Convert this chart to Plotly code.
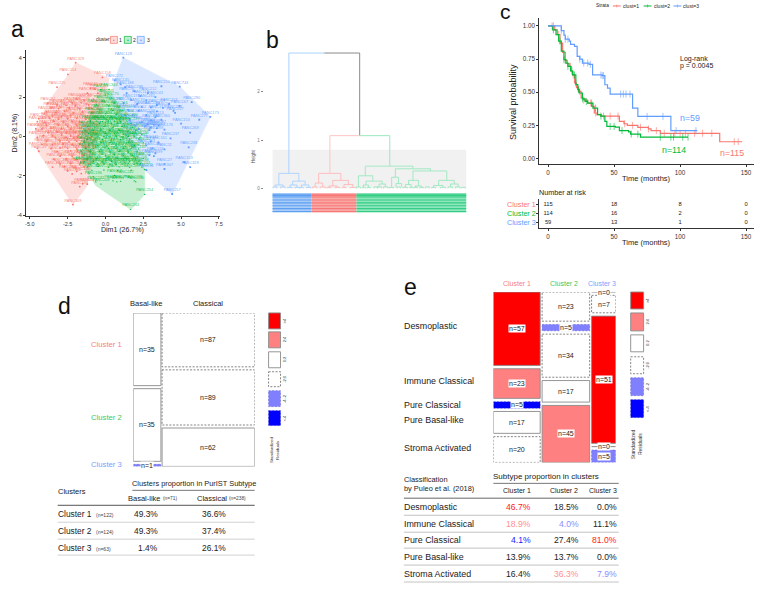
import plotly.graph_objects as go

W, H = 761, 593
FONT = "Liberation Sans"
RED, GREEN, BLUE = "#F8766D", "#00BA38", "#619CFF"

# ---------- panel a: PCA points (Dim1, Dim2, PANC id) ----------
red_points = [
(-1.97,3.75,329),(-2.48,3.15,154),(-0.2,3.0,158),(-3.2,2.5,225),(-1.0,2.45,26),(-0.7,2.4,78),(-0.5,2.2,91),(-1.2,2.2,133),
(-1.9,1.9,172),(-1.4,1.85,44),(-0.8,1.9,207),(-3.8,1.7,61),(-2.2,1.7,118),(-1.6,1.72,239),(-3.2,1.6,17),(-2.6,1.58,302),
(-2.0,1.55,85),(-1.1,1.6,146),(-0.5,1.55,260),(-3.6,1.45,34),(-3.1,1.42,197),(-2.4,1.45,221),(-1.7,1.4,58),(-0.9,1.42,114),
(-3.9,1.25,283),(-3.3,1.22,9),(-2.7,1.28,165),(-2.1,1.2,76),(-1.5,1.25,248),(-0.8,1.2,139),(-3.5,1.05,22),(-2.9,1.02,311),
(-2.3,1.08,97),(-1.2,1.05,184),(-0.6,1.0,51),(-4.4,0.9,273),(-3.7,0.92,126),(-3.1,0.88,39),(-2.5,0.9,215),(-1.9,0.92,68),
(-1.3,0.88,291),(-4.5,0.75,143),(-4.0,0.72,5),(-3.4,0.78,232),(-2.8,0.74,107),(-2.2,0.76,178),(-1.6,0.72,83),(-1.0,0.75,256),
(-3.9,0.55,19),(-3.1,0.58,201),(-2.5,0.52,64),(-1.9,0.56,120),(-1.4,0.53,297),(-4.6,0.4,155),(-4.2,0.38,42),(-3.6,0.42,268),
(-2.9,0.4,93),(-2.3,0.37,189),(-1.7,0.42,30),(-1.1,0.38,244),(-3.8,0.2,136),(-3.2,0.22,71),(-2.6,0.18,305),(-2.0,0.22,12),
(-1.5,0.2,169),(-4.1,0.05,226),(-3.5,0.03,88),(-2.9,0.07,151),(-2.3,0.03,47),(-1.8,0.06,279),(-1.2,0.02,103),(-4.5,-0.05,193),
(-3.3,-0.07,28),(-2.6,-0.04,235),(-2.1,-0.08,74),(-1.6,-0.05,160),(-1.0,-0.06,315),(-3.9,-0.25,55),(-3.0,-0.22,212),(-2.4,-0.27,129),
(-1.9,-0.24,6),(-1.4,-0.26,287),(-4.2,-0.4,99),(-3.5,-0.42,176),(-2.8,-0.38,37),(-2.2,-0.41,251),(-1.7,-0.39,110),(-1.1,-0.42,66),
(-4.5,-0.6,203),(-3.6,-0.62,14),(-3.0,-0.58,298),(-2.5,-0.6,141),(-1.9,-0.63,81),(-1.3,-0.59,230),(-4.4,-0.75,49),(-3.2,-0.77,187),
(-2.3,-0.73,123),(-1.6,-0.76,264),(-1.1,-0.74,25),(-3.0,-1.0,162),(-2.2,-1.02,95),(-1.5,-0.98,218),(-3.4,-1.15,60),(-2.6,-1.13,308),
(-1.9,-1.17,132),(-1.2,-1.14,3),(-3.0,-1.4,243),(-2.3,-1.38,79),(-1.7,-1.42,174),(-1.1,-1.39,116),(-3.5,-1.55,36),(-2.7,-1.53,276),
(-2.0,-1.57,149),(-1.4,-1.54,53),(-2.5,-1.75,209),(-1.9,-1.77,90),(-2.2,-1.9,255),(-1.6,-1.88,128),(-1.5,-2.4,289),(-1.2,-2.42,41),
(-1.7,-2.55,194),(-2.15,-3.46,309),
]
green_points = [
(0.24,2.39,344),(-0.31,2.38,15),(0.0,2.1,241),(0.4,1.95,70),(-0.2,1.8,183),(0.6,1.7,292),(-0.6,1.6,125),(0.2,1.55,33),
(0.9,1.5,216),(-0.4,1.35,147),(0.5,1.32,86),(1.1,1.3,259),(-0.9,1.2,8),(0.0,1.15,170),(0.7,1.12,303),(1.3,1.08,104),
(-0.7,1.0,59),(-0.1,0.98,224),(0.4,1.0,137),(1.0,0.95,21),(1.6,0.9,280),(-1.0,0.8,192),(-0.6,0.78,46),(-0.2,0.76,113),
(0.2,0.79,247),(0.6,0.77,72),(1.0,0.75,166),(1.4,0.78,294),(-0.8,0.68,31),(-0.4,0.66,200),(0.0,0.69,89),(0.4,0.65,269),
(0.8,0.67,140),(1.2,0.64,10),(1.7,0.66,229),(-1.2,0.5,101),(-0.7,0.48,175),(-0.1,0.5,54),(0.5,0.47,262),(1.1,0.5,122),
(1.8,0.45,307),(-1.3,0.32,43),(-0.8,0.3,210),(-0.3,0.33,80),(0.3,0.3,156),(0.9,0.32,285),(1.5,0.28,24),(2.0,0.31,135),
(-1.1,0.15,237),(-0.6,0.13,67),(0.0,0.16,186),(0.6,0.14,300),(1.2,0.12,109),(1.8,0.15,7),(2.4,0.1,219),(-1.3,0.02,75),
(-0.9,0.0,152),(-0.5,-0.02,272),(-0.1,0.01,38),(0.3,-0.01,195),(0.7,0.02,94),(1.1,-0.02,253),(1.5,0.0,131),(1.9,-0.01,18),
(2.3,-0.03,296),(-1.2,-0.14,163),(-0.7,-0.12,56),(-0.2,-0.15,227),(0.4,-0.13,112),(1.0,-0.16,278),(1.6,-0.14,29),(2.2,-0.12,181),
(-1.4,-0.3,84),(-0.9,-0.32,246),(-0.3,-0.29,142),(0.3,-0.31,13),(0.9,-0.33,306),(1.5,-0.3,198),(2.5,-0.32,62),(-1.1,-0.47,124),
(-0.5,-0.45,266),(0.1,-0.48,35),(0.7,-0.46,171),(1.3,-0.49,100),(1.9,-0.47,233),(-1.3,-0.62,50),(-0.8,-0.6,205),(-0.3,-0.63,144),
(0.2,-0.61,284),(0.7,-0.59,16),(1.2,-0.62,119),(1.7,-0.6,252),(2.2,-0.63,77),(-1.0,-0.78,168),(-0.4,-0.76,40),(0.3,-0.79,223),
(0.9,-0.77,105),(1.5,-0.8,295),(2.1,-0.75,145),(-1.4,-0.95,63),(-0.7,-0.93,240),(0.0,-0.96,11),(0.6,-0.94,180),(1.2,-0.97,87),
(1.8,-0.95,270),(-1.2,-1.1,127),(-0.6,-1.12,32),(0.1,-1.09,214),(0.8,-1.11,98),(1.4,-1.13,301),(2.0,-1.1,159),(2.5,-1.12,52),
(-1.4,-1.28,236),(-0.8,-1.26,73),(-0.2,-1.29,190),(0.4,-1.27,4),(1.0,-1.3,282),(1.6,-1.28,117),(2.2,-1.26,206),(-1.0,-1.4,45),
(-0.5,-1.38,148),(-0.1,-1.41,261),(0.3,-1.39,92),(0.7,-1.42,173),(1.1,-1.4,27),(1.5,-1.38,228),(1.9,-1.41,108),(2.3,-1.39,288),
(-1.2,-1.55,65),(-0.5,-1.53,202),(0.2,-1.56,134),(0.9,-1.54,20),(1.6,-1.57,250),(2.4,-1.55,157),(-0.9,-1.72,82),(-0.1,-1.7,293),
(0.8,-1.73,121),(1.7,-1.71,48),(2.59,-1.68,211),(-1.62,-1.34,167),(-0.8,-2.05,196),(0.6,-1.98,57),(1.3,-2.0,242),(-0.64,-2.3,182),
(0.5,-2.25,106),(1.0,-2.28,274),(-0.3,-2.42,208),(0.75,-2.3,69),(1.9,-2.25,235),(2.0,-2.3,130),(2.59,-2.95,254),(1.67,-3.71,263),
]
blue_points = [
(1.18,4.0,128),(0.6,2.85,272),(1.0,2.65,145),(1.3,2.5,188),(3.7,2.55,150),(4.91,2.53,743),(1.9,2.3,299),(1.4,2.2,76),
(2.8,2.2,212),(2.3,2.05,118),(3.3,2.0,43),(1.7,1.85,171),(2.7,1.85,261),(1.2,1.7,94),(2.1,1.65,33),(3.4,1.6,207),
(4.2,1.65,153),(5.7,1.75,290),(4.9,1.55,167),(2.4,1.5,84),(3.0,1.48,230),(3.8,1.45,51),(1.5,1.35,139),(2.2,1.3,12),
(4.5,1.3,294),(3.4,1.28,177),(4.6,1.2,207),(1.8,1.1,62),(2.7,1.08,248),(3.3,0.98,113),(6.93,1.0,173),(6.2,0.85,277),
(1.6,0.85,29),(3.0,0.82,190),(3.7,0.85,360),(2.4,0.72,105),(5.0,0.65,153),(2.8,0.62,68),(3.2,0.6,225),(2.0,0.55,146),
(3.5,0.55,87),(2.6,0.5,310),(3.0,0.45,19),(3.4,0.42,201),(2.2,0.38,134),(2.9,0.32,56),(3.9,0.35,176),(3.25,0.22,289),
(5.6,0.2,269),(4.3,-0.1,237),(3.0,-0.25,41),(3.5,-0.3,161),(2.7,-0.45,263),(5.5,-0.55,238),(3.1,-0.6,48),(3.9,-0.65,11),
(3.3,-0.85,116),(3.2,-1.0,199),(2.9,-0.95,74),(5.2,-1.3,153),(5.6,-1.55,329),(3.9,-1.4,27),(3.9,-1.65,307),(2.7,-1.7,31),
(4.41,-2.92,257),
]
red_hull_x = [-1.97,0.24,-1.23,-2.15,-4.47,-4.63,-3.82,-2.43,-1.97]
red_hull_y = [3.75,2.95,-2.53,-3.46,-0.75,0.27,1.71,3.15,3.75]
green_hull_x = [0.24,0.7,2.59,2.59,1.67,-0.64,-1.62,-1.4,-0.31,0.24]
green_hull_y = [2.39,1.8,-1.68,-2.95,-3.71,-2.49,-1.34,0.36,2.39,2.39]
blue_hull_x = [1.18,4.91,6.93,4.41,2.54,1.56,0.35,0.6,1.18]
blue_hull_y = [4.0,2.53,1.0,-2.92,-1.68,-0.32,1.88,2.85,4.0]

# ---------- panel b: dendrogram merges (left leaf, right leaf, height, left end, right end) ----------
blue_merges = [(10,42,.31,.07,.15),(4,17,.07,.03,.03),(32,52,.15,.07,.07),(28,39,.07,.02,.02),(46,58,.07,.02,.02),
 (1,7,.03,0,0),(13,20,.03,0,0),(24,31,.02,0,0),(36,43,.02,0,0),(44,49,.02,0,0),(54,61,.02,0,0)]
red_merges = [(73.5,109,.31,.11,.165),(68,80,.11,.03,.03),(96,121,.165,.05,.08),(90,103,.05,.02,.02),(114,128,.08,.02,.02),
 (64,71,.03,0,0),(76,84,.03,0,0),(87,93,.02,0,0),(100,107,.02,0,0),(111,117,.02,0,0),(124,132,.02,0,0)]
green_merges = [(148,224,.46,.26,.405),(137,160,.26,.03,.15),(149,175,.15,.07,.09),(196,252,.405,.23,.36),(190,201,.23,.02,.10),
 (197,206,.10,.02,.03),(224,278,.36,.165,.165),(217,233,.165,.08,.05),(265,290,.165,.06,.09),(257,272,.06,.02,.02),
 (284,296,.09,.03,.03),(212,221,.08,.02,.02),(228,238,.05,.02,.02),(145,153,.07,.02,.02),(170,180,.09,.03,.03),
 (134,140,.03,0,0),(143,148,.02,0,0),(151,156,.02,0,0),(162,168,.03,0,0),(167,174,.03,0,0),(177,184,.03,0,0),
 (186,193,.02,0,0),(199,204,.03,0,0),(208,215,.02,0,0),(219,224,.02,0,0),(226,231,.02,0,0),(235,241,.02,0,0),
 (244,250,.03,0,0),(254,260,.02,0,0),(268,276,.02,0,0),(280,287,.03,0,0),(292,299,.03,0,0),(301,308,.02,0,0)]
top_blue_x, top_blue_h = [82.5,26,26], [2.8,2.8,.31]
top_grey_x, top_grey_h = [82.5,139,139], [2.8,2.8,1.09]
mid_red_x, mid_red_h = [139,91.5,91.5], [1.09,1.09,.31]
mid_green_x, mid_green_h = [139,187,187], [1.09,1.09,.46]
leaf_groups = [(0,62),(62,134),(134,309)]

# ---------- panel c: survival curves ----------
t1 = [0,2.3,5,7,9,11,13,14.5,16,17.5,18.6,20,21.5,23,25,27,30,33,35,37,40,50,54,57.5,60,68,76,78,85,130,147]
s1 = [1,1,.97,.935,.87,.80,.74,.715,.695,.66,.63,.57,.535,.506,.456,.44,.418,.393,.343,.33,.32,.32,.28,.262,.25,.235,.223,.21,.19,.126,.126]
t2 = [0,1.5,3.5,6,8,10,12,13.5,15,17,18.6,21,22.5,23.6,26,28,30,34,37.5,40,43,44.5,51,54,61,62.5,70,106]
s2 = [1,1,.97,.935,.885,.81,.745,.72,.695,.66,.63,.557,.52,.494,.45,.43,.418,.38,.33,.32,.28,.242,.237,.21,.20,.184,.161,.161]
t3 = [0,8.5,10,12,13,16,17,20,22,24,26,31,33.7,41,43,45,47,64,68,93,113]
s3 = [1,1,.965,.93,.90,.885,.86,.845,.77,.75,.72,.71,.63,.625,.556,.53,.486,.38,.317,.21,.21]
c1 = [3,8,13,17,19,21,24,27,32,36,42,47,53,58,64,70,76,82,88,96,100,104,111,117,124,141,144]
c2 = [4,9,12,15,18,20,23,26,29,33,36,40,47,50,56,63,68,85,93,95,102,106]
c3 = [4,10,13,15,24,27,30,32,40,41,42,55,57,59,62,75,87,97,112]
risk_times = [0,50,100,150]
risk1 = [115,18,8,0]
risk2 = [114,16,2,0]
risk3 = [59,13,1,0]

# ---------- panels d / e: mosaics ----------
d_columns = ["Basal-like","Classical"]
d_counts = [[35,35,1],[87,89,62]]
d_levels = [["a","a","n"],["d","d","a"]]
e_rows = ["Desmoplastic","Immune Classical","Pure Classical","Pure Basal-like","Stroma Activated"]
e_counts = [[57,23,5,17,20],[23,5,34,17,45],[0,7,51,0,5]]
e_levels = [["R","r","B","a","d"],["d","n","d","a","r"],["d","d","R","d","n"]]
legend_levels = ["R","r","a","d","n","B"]
legend_text = [">4","2:4","0:2","-2:0","-4:-2","<-4"]

d_cluster_names = ["Cluster 1","Cluster 2","Cluster 3"]
d_cluster_n = ["(n=122)","(n=124)","(n=63)"]
d_basal = ["49.3%","49.3%","1.4%"]
d_classical = ["36.6%","37.4%","26.1%"]
e_col1 = ["46.7%","18.9%","4.1%","13.9%","16.4%"]
e_col2 = ["18.5%","4.0%","27.4%","13.7%","36.3%"]
e_col3 = ["0.0%","11.1%","81.0%","0.0%","7.9%"]
e_col1_level = ["R","r","B","k","k"]
e_col2_level = ["k","n","k","k","r"]
e_col3_level = ["k","k","R","k","n"]

# ---------- helpers ----------
fig = go.Figure()
layout = {}
annotations, shapes = [], []
naxes = 0

def X(px): return px / W
def Y(py): return 1 - py / H

def add_axes(box, xrange, yrange, xopts=None, yopts=None):
    global naxes
    naxes += 1
    s = "" if naxes == 1 else str(naxes)
    l, t, r, b = box
    base = dict(showgrid=False, zeroline=False, showline=False, ticks="", showticklabels=False)
    xa = dict(base, domain=[X(l), X(r)], range=xrange, anchor="y" + s)
    ya = dict(base, domain=[Y(b), Y(t)], range=yrange, anchor="x" + s)
    xa.update(xopts or {}); ya.update(yopts or {})
    layout["xaxis" + s] = xa
    layout["yaxis" + s] = ya
    return "x" + s, "y" + s

def text(px, py, s, size=7, color="#222", anchor="left", angle=0, bg=None, family=FONT):
    annotations.append(dict(x=X(px), y=Y(py), xref="paper", yref="paper", text=s, showarrow=False,
        xanchor=anchor, yanchor="middle", textangle=angle, borderpad=0, borderwidth=0,
        font=dict(size=size, color=color, family=family), **({"bgcolor": bg} if bg else {})))

def hline(x0, x1, y, color="#bbb", width=0.8):
    shapes.append(dict(type="line", xref="paper", yref="paper", x0=X(x0), x1=X(x1), y0=Y(y), y1=Y(y),
                       line=dict(color=color, width=width)))

def box_shape(l, t, r, b, fill, line, width=0.8, dash="solid"):
    shapes.append(dict(type="rect", xref="paper", yref="paper", x0=X(l), x1=X(r), y0=Y(t), y1=Y(b),
                       fillcolor=fill, line=dict(color=line, width=width, dash=dash)))

def line_axis(tickvals, ticktext, size, color="#333"):
    return dict(showline=True, linecolor="#333", linewidth=0.8, ticks="outside", ticklen=2, tickwidth=0.6,
                tickcolor="#333", showticklabels=True, tickvals=tickvals, ticktext=ticktext,
                tickfont=dict(size=size, color=color, family=FONT))

# ---------- panel a ----------
xa, ya = add_axes((25, 50, 220, 217), [-5.26, 7.56], [-4.05, 4.4],
    line_axis([-5,-2.5,0,2.5,5,7.5], ["-5.0","-2.5","0.0","2.5","5.0","7.5"], 5.5),
    line_axis([-4,-2,0,2,4], ["-4","-2","0","2","4"], 5.5))
for hx, hy, col in [(red_hull_x, red_hull_y, RED), (green_hull_x, green_hull_y, GREEN), (blue_hull_x, blue_hull_y, BLUE)]:
    fig.add_trace(go.Scatter(x=hx, y=hy, mode="lines", fill="toself", fillcolor=col, opacity=0.22,
                             line=dict(color=col, width=0.8), xaxis=xa, yaxis=ya, hoverinfo="skip"))
for pts, col, rgba, sym in [(red_points, RED, "rgba(248,118,109,0.9)", "circle"),
                            (green_points, GREEN, "rgba(0,186,56,0.85)", "triangle-up"),
                            (blue_points, BLUE, "rgba(97,156,255,0.9)", "square")]:
    fig.add_trace(go.Scatter(x=[p[0] for p in pts], y=[p[1] for p in pts], mode="markers+text",
        text=[f"PANC{p[2]}" for p in pts], textposition="top center",
        textfont=dict(size=3.9, color=rgba, family=FONT),
        marker=dict(size=1.8, color=col, symbol=sym), xaxis=xa, yaxis=ya))
text(122, 230.5, "Dim1 (26.7%)", 7, anchor="center")
text(14, 133, "Dim2 (8.1%)", 7, anchor="center", angle=-90)
text(95, 40, "cluster", 4.6)
for lx, tx, s, col in [(110, 120, "1", RED), (124, 134, "2", GREEN), (137, 148, "3", BLUE)]:
    box_shape(lx, 36.5, lx + 7, 43.5, "rgba(%d,%d,%d,0.25)" % tuple(int(col[i:i+2], 16) for i in (1, 3, 5)), col, 0.7)
    text(tx, 40, s, 5, anchor="center")
    text(lx + 3.5, 40, "•", 5, color=col, anchor="center")
text(10, 29, "a", 23, color="#111")

# ---------- panel b ----------
xb, yb = add_axes((264, 50, 470, 215), [(264-273)/.63, (470-273)/.63], [(189-215)/48.5, (189-50)/48.5],
    None, dict(showticklabels=True, tickvals=[0,1,2], ticktext=["0","1","2"], ticks="outside", ticklen=2,
               tickwidth=0.5, tickcolor="#888", tickfont=dict(size=4.6, color="#777", family=FONT)))
leaf_end = leaf_groups[-1][1]
fig.add_trace(go.Scatter(x=[0, leaf_end, leaf_end, 0, 0], y=[0, 0, .8, .8, 0], mode="lines", fill="toself",
    fillcolor="#F1F1F1", line=dict(width=0), xaxis=xb, yaxis=yb, hoverinfo="skip"))
def draw_line(xs, ys, color, width=1):
    fig.add_trace(go.Scatter(x=xs, y=ys, mode="lines", line=dict(color=color, width=width),
                             xaxis=xb, yaxis=yb, hoverinfo="skip"))
for (a, b), (base, stripe) in zip(leaf_groups, [("#A8CBF8", "#5E9FF2"), ("#F9A9A5", "#F77878"), ("#8FE6BC", "#35CC85")]):
    fig.add_trace(go.Scatter(x=[a, b, b, a, a], y=[-.11, -.11, -.5, -.5, -.11], mode="lines", fill="toself",
        fillcolor=base, line=dict(width=0), xaxis=xb, yaxis=yb, hoverinfo="skip"))
    for h in [-.12,-.15,-.18,-.24,-.3,-.36,-.42,-.48]:
        draw_line([a, b], [h, h], stripe, 1.1)
for merges, col in [(blue_merges, "#A9D2FF"), (red_merges, "#FFB9B9"), (green_merges, "#9BE8BF")]:
    for l, r, h, hl, hr in merges:
        draw_line([l, l, r, r], [hl, h, h, hr], col, 0.9)
draw_line(top_blue_x, top_blue_h, "#A9D2FF", 1)
draw_line(top_grey_x, top_grey_h, "#8A8A8A", 1)
draw_line(mid_red_x, mid_red_h, "#FFC4C4", 1)
draw_line(mid_green_x, mid_green_h, "#9BE8BF", 1)
text(254, 157, "Height", 4.5, color="#555", anchor="center", angle=-90)
text(266, 40, "b", 23, color="#111")

# ---------- panel c ----------
xr = [(541-550)/1.327, (757-550)/1.327]
xc, yc = add_axes((541, 18, 757, 165), xr, [(159-165)/133, (159-18)/133],
    line_axis([0,50,100,150], ["0","50","100","150"], 6.3),
    line_axis([0,.25,.5,.75,1], ["0.00","0.25","0.50","0.75","1.00"], 6.3))
def surv_at(tt, ss, q):
    v = ss[0]
    for a, b in zip(tt, ss):
        if a <= q: v = b
    return v
for tt, ss, cc, col in [(t1, s1, c1, RED), (t2, s2, c2, GREEN), (t3, s3, c3, BLUE)]:
    fig.add_trace(go.Scatter(x=tt, y=ss, mode="lines", line=dict(color=col, width=1.2, shape="hv"), xaxis=xc, yaxis=yc))
    fig.add_trace(go.Scatter(x=cc, y=[surv_at(tt, ss, q) for q in cc], mode="markers",
        marker=dict(symbol="line-ns", size=5, line=dict(color=col, width=0.6)), xaxis=xc, yaxis=yc))
text(649, 179, "Time (months)", 7.5, anchor="center")
text(514, 102, "Survival probability", 9, anchor="center", angle=-90)
text(683, 59, "Log-rank", 7)
text(683, 66, "p = 0.0045", 7)
text(683, 118, "n=59", 8.8, color=BLUE)
text(664, 151, "n=114", 8.8, color=GREEN)
text(723, 154, "n=115", 8.8, color=RED)
text(598, 6, "Strata", 4.8)
for lx, s, col in [(615, "clust=1", RED), (646, "clust=2", GREEN), (676, "clust=3", BLUE)]:
    hline(lx, lx + 8, 6, col, 1)
    shapes.append(dict(type="line", xref="paper", yref="paper", x0=X(lx+4), x1=X(lx+4), y0=Y(4.5), y1=Y(7.5), line=dict(color=col, width=0.6)))
    text(lx + 10, 6, s, 5)
text(502, 11.5, "c", 21, color="#111")

xk, yk = add_axes((541, 200, 757, 229), xr, [3.67, 0.44],
    line_axis([0,50,100,150], ["0","50","100","150"], 6.3),
    dict(showline=True, linecolor="#333", linewidth=0.8, ticks="outside", ticklen=2, tickwidth=0.6,
         tickcolor="#333", tickvals=[1,2,3], showticklabels=False))
for i, vals in enumerate([risk1, risk2, risk3]):
    fig.add_trace(go.Scatter(x=risk_times, y=[i + 1] * 4, mode="text", text=[str(v) for v in vals],
        textposition="middle center", textfont=dict(size=5.8, color="#222", family=FONT), xaxis=xk, yaxis=yk, cliponaxis=False))
text(541, 193, "Number at risk", 7.2)
for py, s, col in [(205, "Cluster 1", RED), (214, "Cluster 2", GREEN), (223, "Cluster 3", BLUE)]:
    text(537.5, py, s, 7.2, color=col, anchor="right")
text(649, 243, "Time (months)", 7.5, anchor="center")

# ---------- mosaics ----------
FINE = "2px,1.5px"
STYLE = {"R": ("#FF0000", "solid", "#8a8a8a", 0.9), "r": ("#FF8080", "solid", "#8a8a8a", 0.9), "a": ("#FFFFFF", "solid", "#8a8a8a", 0.9),
         "d": ("#FFFFFF", FINE, "#666", 0.8), "n": ("#8080FF", FINE, "#5555cc", 0.5), "B": ("#0000FF", FINE, "#2222cc", 0.5)}

def mosaic(box, counts, levels, gap_x, gap_y, label_size=7):
    total = sum(sum(c) for c in counts) + gap_x * (len(counts) - 1)
    xm, ym = add_axes(box, [0, total], [1, 0])
    left = 0
    for col, lev in zip(counts, levels):
        nc = sum(col)
        avail = 1 - gap_y * (len(col) - 1)
        top = 0
        for n, lv in zip(col, lev):
            hgt = n / nc * avail
            fill, dash, line, lw = STYLE[lv]
            if n == 0:
                fig.add_trace(go.Scatter(x=[left, left + nc], y=[top, top], mode="lines",
                    line=dict(color="#555", width=0.7), xaxis=xm, yaxis=ym, hoverinfo="skip", cliponaxis=False))
            else:
                fig.add_trace(go.Scatter(x=[left, left + nc, left + nc, left, left], y=[top, top, top + hgt, top + hgt, top],
                    mode="lines", fill="toself", fillcolor=fill, line=dict(color=line, width=lw, dash=dash),
                    xaxis=xm, yaxis=ym, hoverinfo="skip", cliponaxis=False))
            annotations.append(dict(x=left + nc / 2, y=top + hgt / 2, xref=xm, yref=ym, text=f"n={n}", showarrow=False,
                xanchor="center", yanchor="middle", borderpad=0, bgcolor="#FFFFFF" if fill != "#FFFFFF" or n == 0 else None,
                font=dict(size=label_size, color="#222", family=FONT)))
            top += hgt + gap_y
        left += nc + gap_x

def resid_legend(l, r, rows, tx, size=4):
    for (t, b), lv, s in zip(rows, legend_levels, legend_text):
        fill, dash, line, lw = STYLE[lv]
        box_shape(l, t, r, b, fill, line, lw, dash)
        text(tx, (t + b) / 2, s, size, color="#333", anchor="center", angle=-90)

# panel d
mosaic((133, 314, 255, 468), d_counts, d_levels, 3, 0.0196)
for (py, s, col) in zip([346, 419, 466], d_cluster_names, ["#F98080", "#3CC864", "#7AA0FF"]):
    text(122, py, s, 7.7, color=col, anchor="right")
text(146, 305, d_columns[0], 7.5, anchor="center")
text(208, 305, d_columns[1], 7.5, anchor="center")
resid_legend(269, 281, [(314,330),(333,349),(353,369),(373,388),(392,408),(412,427)], 285)
text(272, 452, "Standardized", 4.4, color="#333", anchor="center", angle=-90)
text(278, 452, "Residuals", 4.4, color="#333", anchor="center", angle=-90)
text(57, 307, "d", 23, color="#111")

text(57, 493, "Clusters", 7.5)
text(194, 485, "Clusters proportion in PurIST Subtype", 7.4, anchor="center")
hline(132, 255, 492, "#555", 0.8)
text(128, 500, "Basal-like", 7.5); text(163, 500.5, "(n=71)", 4.8, color="#444")
text(197, 500, "Classical", 7.5); text(229, 500.5, "(n=238)", 4.8, color="#444")
hline(57, 255, 507, "#555", 1)
for py, sep, nm, nn, b, c in zip([516, 533, 550], [524, 541, 557], d_cluster_names, d_cluster_n, d_basal, d_classical):
    text(57, py, nm, 8.4); text(96, py + 1, nn, 5, color="#444")
    text(158, py, b, 8.4, anchor="right"); text(226, py, c, 8.4, anchor="right")
    hline(57, 255, sep, "#ccc", 0.9)

# panel e
mosaic((495, 293, 618, 464), e_counts, e_levels, 5, 0.0195)
for px, s, col in [(519, "Cluster 1", "#F98080"), (566, "Cluster 2", "#3CC864"), (604, "Cluster 3", "#7AA0FF")]:
    text(px, 284, s, 7, color=col, anchor="center")
for py, s in zip([327, 382, 406, 421, 450], e_rows):
    text(405, py, s, 8.9)
resid_legend(633, 646, [(293,310),(314,332),(336,353),(358,375),(379,397),(401,419)], 650)
text(636, 446, "Standardized", 5, color="#333", anchor="center", angle=-90)
text(643, 446, "Residuals", 5, color="#333", anchor="center", angle=-90)
text(405, 288, "e", 23, color="#111")

text(405, 481, "Classification", 7.4)
text(405, 490, "by Puleo et al. (2018)", 7.4)
text(495, 478, "Subtype proportion in clusters", 8)
hline(495, 621, 485, "#555", 0.8)
for px, s in [(519, "Cluster 1"), (566, "Cluster 2"), (605, "Cluster 3")]:
    text(px, 492, s, 7, anchor="center")
hline(405, 621, 500, "#999", 1.5)
TXT = {"R": "#FF2020", "r": "#FF8F8F", "n": "#8C8CFF", "B": "#2020FF", "k": "#222"}
for i, py in enumerate([509, 526, 542, 559, 576]):
    text(405, py, e_rows[i], 8.9)
    text(533, py, e_col1[i], 8.6, color=TXT[e_col1_level[i]], anchor="right")
    text(581, py, e_col2[i], 8.6, color=TXT[e_col2_level[i]], anchor="right")
    text(619, py, e_col3[i], 8.6, color=TXT[e_col3_level[i]], anchor="right")
for sep in [517, 534, 550, 567, 584]:
    hline(405, 621, sep, "#bbb", 0.9)

fig.update_layout(width=W, height=H, margin=dict(l=0, r=0, t=0, b=0), showlegend=False,
    plot_bgcolor="white", paper_bgcolor="white", font=dict(family=FONT), annotations=annotations, shapes=shapes, **layout)
fig.write_html("out.html", config={"displayModeBar": False},
    post_script="document.body.style.margin='0';document.documentElement.style.overflow='hidden';")
